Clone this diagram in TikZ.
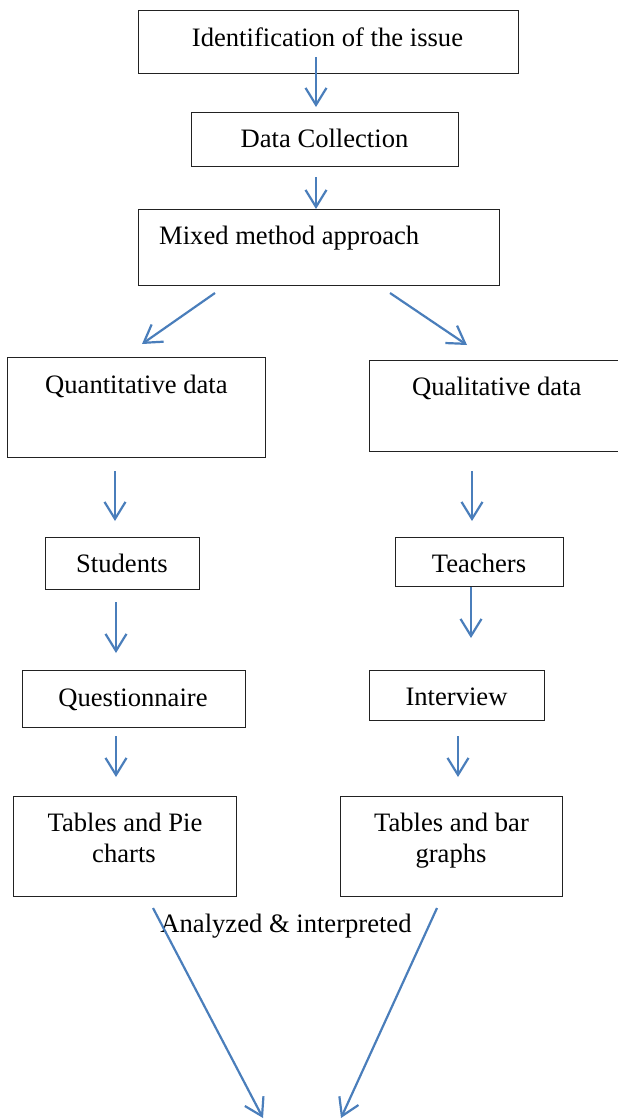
\documentclass[tikz,border=0pt]{standalone}
\usepackage{fontspec}
\setmainfont{Liberation Serif}
\usetikzlibrary{arrows.meta}
\definecolor{arrowblue}{HTML}{4A7EBB}
\definecolor{boxline}{HTML}{222222}
\begin{document}
\begin{tikzpicture}[x=1pt,y=-1pt,
  box/.style={draw=boxline,line width=1.3pt,rectangle,inner sep=0pt,anchor=north west},
  txt/.style={anchor=base,inner sep=0pt,font=\fontsize{26.6}{32}\selectfont},
  flow/.style={draw=arrowblue,line width=2.2pt,-{Straight Barb[length=17pt,width=21pt,line width=2.2pt]}}]
\useasboundingbox (0,0) rectangle (618,1119);
% boxes
\node[box,minimum width=380pt,minimum height=63pt] (idb) at (138,10) {};
\node[box,minimum width=267pt,minimum height=54pt] (dcb) at (191,112) {};
\node[box,minimum width=361pt,minimum height=76pt] (mmb) at (138,209) {};
\node[box,minimum width=258pt,minimum height=100pt] (qnb) at (7,357) {};
\node[box,minimum width=260pt,minimum height=91pt] (qlb) at (369,360) {};
\node[box,minimum width=154pt,minimum height=52pt] (stb) at (45,537) {};
\node[box,minimum width=168pt,minimum height=49pt] (teb) at (395,537) {};
\node[box,minimum width=223pt,minimum height=57pt] (qub) at (22,670) {};
\node[box,minimum width=175pt,minimum height=50pt] (inb) at (369,670) {};
\node[box,minimum width=223pt,minimum height=100pt] (tpb) at (13,796) {};
\node[box,minimum width=222pt,minimum height=100pt] (tbb) at (340,796) {};
% texts
\node[txt] (idt) at (327.5,46) {Identification of the issue};
\node[txt] (dct) at (324.5,147) {Data Collection};
\node[txt,anchor=base west] (mmt) at (159,244) {Mixed method approach};
\node[txt,anchor=base west] (qnt) at (45,393) {Quantitative data};
\node[txt,anchor=base west] (qlt) at (412,395) {Qualitative data};
\node[txt] (stt) at (122,572) {Students};
\node[txt] (tet) at (479,572) {Teachers};
\node[txt] (qut) at (133,706) {Questionnaire};
\node[txt] (int) at (456.5,705) {Interview};
\node[txt] (tpt1) at (125,831) {Tables and Pie};
\node[txt] (tpt2) at (124,862) {charts};
\node[txt] (tbt1) at (451.5,831) {Tables and bar};
\node[txt] (tbt2) at (451,862) {graphs};
\node[txt] (ana) at (286,932) {Analyzed \& interpreted};
% arrow endpoints
\coordinate (a1s) at (316,57);  \coordinate (a1e) at (316,107);
\coordinate (a2s) at (316,177); \coordinate (a2e) at (316,209);
\coordinate (a3s) at (215,293); \coordinate (a3e) at (142,344);
\coordinate (a4s) at (390,293); \coordinate (a4e) at (467,345);
\coordinate (a5s) at (115,471); \coordinate (a5e) at (115,521);
\coordinate (a6s) at (472,471); \coordinate (a6e) at (472,521);
\coordinate (a7s) at (116,602); \coordinate (a7e) at (116,653);
\coordinate (a8s) at (471,587); \coordinate (a8e) at (471,638);
\coordinate (a9s) at (116,736); \coordinate (a9e) at (116,777);
\coordinate (a10s) at (458,736); \coordinate (a10e) at (458,777);
\coordinate (a11s) at (153,908); \coordinate (a11e) at (263,1118);
\coordinate (a12s) at (437,908); \coordinate (a12e) at (341,1118);
\foreach \i in {1,...,12} {\draw[flow] (a\i s) -- (a\i e);}
\end{tikzpicture}
\end{document}
